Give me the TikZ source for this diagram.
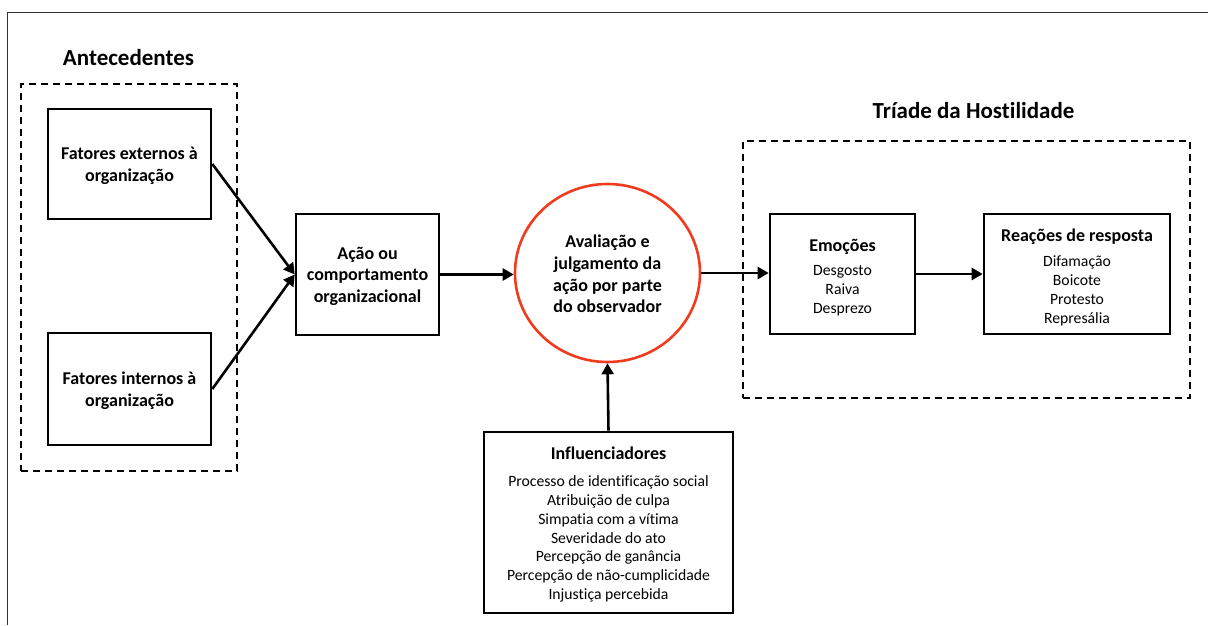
\documentclass[tikz,border=0pt]{standalone}
\usepackage{fontspec}
\setmainfont{Carlito}[Ligatures={NoCommon}]
\usetikzlibrary{arrows.meta,shapes.geometric}
\definecolor{evalred}{HTML}{F03C1E}
\newcommand\hdfont{\fontsize{18}{21.7}\selectfont\bfseries}
\newcommand\lstfont{\fontsize{15.7}{18.8}\selectfont}
\newcommand\topstrut[1]{\rule{0pt}{#1}}
\begin{document}
\begin{tikzpicture}[x=1pt,y=-1pt,
  box/.style={draw, line width=2.6pt, align=center, inner sep=0pt},
  group/.style={draw, line width=1.6pt, dash pattern=on 7pt off 5pt, inner sep=0pt},
  grouptitle/.style={font=\fontsize{23}{27}\selectfont\bfseries, inner sep=0pt},
  flow/.style={line width=2.6pt, -{Triangle[length=11pt,width=12pt]}},
]
\useasboundingbox (0,0) rectangle (1208,625);
% page frame
\draw[line width=1pt, draw=black!80] (1208,12) -- (7,12) -- (7,625);

% groups
\node[group, minimum width=216pt, minimum height=387pt] (antgroup) at (129,277.5) {};
\node[grouptitle] (anttitle) at (128.5,58) {Antecedentes};
\node[group, minimum width=447pt, minimum height=257pt] (triadgroup) at (966.5,269.5) {};
\node[grouptitle] (triadtitle) at (973.5,111) {Tríade da Hostilidade};

% antecedents
\node[box, minimum width=163pt, minimum height=110pt, font=\hdfont] (ext) at (129.5,164) {\topstrut{16pt}Fatores externos à\\organização};
\node[box, minimum width=163pt, minimum height=112pt, font=\hdfont] (int) at (129.5,389) {\topstrut{16pt}Fatores internos à\\organização};

% action and evaluation
\node[box, minimum width=143pt, minimum height=121pt, font=\hdfont] (acao) at (367.5,274.5) {\topstrut{16pt}Ação ou\\comportamento\\organizacional};
\node[draw=evalred, line width=2.6pt, ellipse, minimum width=185pt, minimum height=178pt, inner sep=0pt, align=center, font=\hdfont] (aval) at (607.5,273) {\topstrut{15pt}Avaliação e\\julgamento da\\ação por parte\\do observador};

% influencers
\node[box, minimum width=249pt, minimum height=181pt, font=\lstfont] (infl) at (608.5,522.5) {{\hdfont\topstrut{17pt}Influenciadores}\\[8pt]Processo de identificação social\\Atribuição de culpa\\Simpatia com a vítima\\Severidade do ato\\Percepção de ganância\\Percepção de não-cumplicidade\\Injustiça percebida};

% hostility triad
\node[box, minimum width=145pt, minimum height=120pt, font=\lstfont] (emo) at (842.5,274) {{\hdfont\topstrut{19pt}Emoções}\\[6pt]Desgosto\\Raiva\\Desprezo};
\node[box, minimum width=186pt, minimum height=120pt, font=\lstfont] (reac) at (1077,274) {{\hdfont\topstrut{19pt}Reações de resposta}\\[7pt]Difamação\\Boicote\\Protesto\\Represália};

% connectors
\draw[flow] (ext.east) -- (acao.west);
\draw[flow] (int.east) -- (acao.west);
\draw[flow] (acao.east) -- (acao.east -| aval.west);
\draw[flow] (aval.east) -- (aval.east -| emo.west);
\draw[flow] (emo.east) -- (reac.west);
\draw[flow] (infl.north) -- (aval.south);
\end{tikzpicture}
\end{document}
